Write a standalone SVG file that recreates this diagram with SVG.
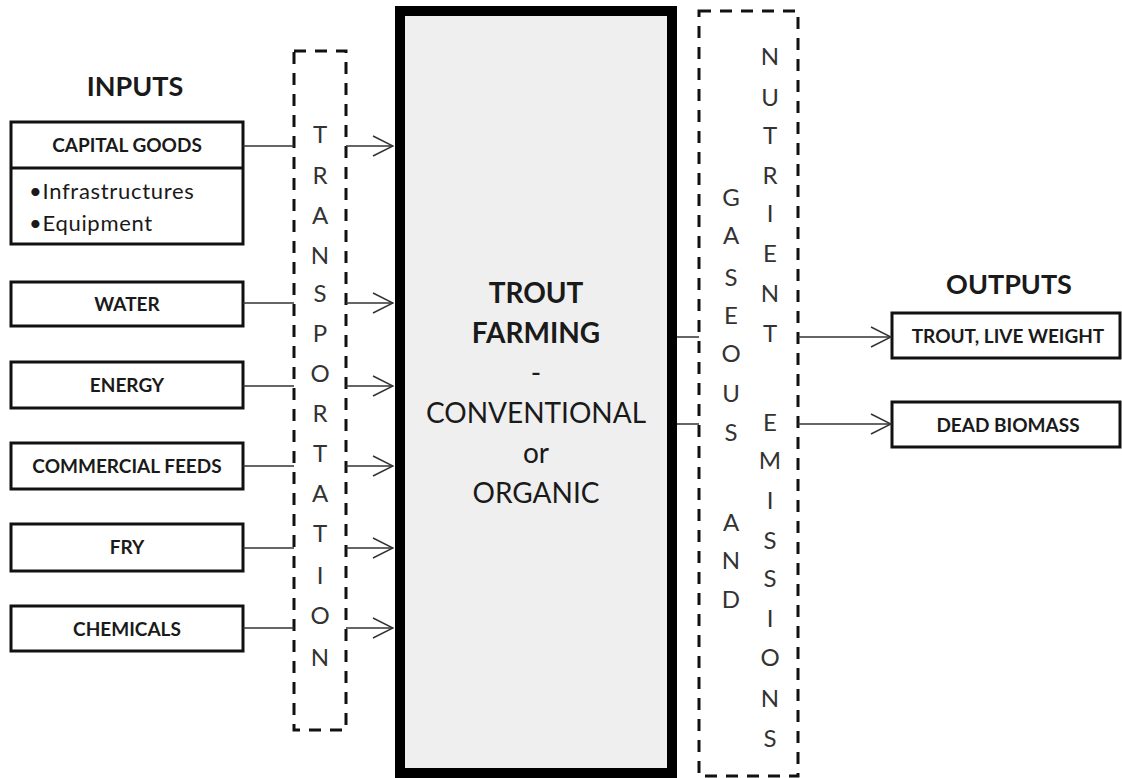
<svg xmlns="http://www.w3.org/2000/svg" width="1122" height="778" viewBox="0 0 1122 778">
<style>
.box{fill:#fff;stroke:#111;stroke-width:3}
.dash{fill:none;stroke:#111;stroke-width:3;stroke-dasharray:12 9}
.ln{fill:none;stroke:#333;stroke-width:1.5}
.lbl{font-family:Lato,"Liberation Sans",sans-serif;font-weight:bold;font-size:19px;fill:#1a1a1a;text-anchor:middle}
.head{font-family:Lato,"Liberation Sans",sans-serif;font-weight:bold;font-size:27px;fill:#1a1a1a;text-anchor:middle}
.bul{font-family:Lato,"Liberation Sans",sans-serif;font-size:22px;letter-spacing:0.7px;fill:#1a1a1a}
.col{font-family:Lato,"Liberation Sans",sans-serif;font-size:24px;fill:#333;text-anchor:middle}
.ctb{font-family:Lato,"Liberation Sans",sans-serif;font-weight:bold;font-size:28px;fill:#1a1a1a;text-anchor:middle}
.ct{font-family:Lato,"Liberation Sans",sans-serif;font-size:28px;fill:#1a1a1a;text-anchor:middle}
</style>
<defs>
<marker id="arr" viewBox="0 0 22 22" refX="21" refY="11" markerWidth="22" markerHeight="22" markerUnits="userSpaceOnUse" orient="auto">
<path d="M1,1 L21,11 L1,21" fill="none" stroke="#333" stroke-width="1.5"/>
</marker>
</defs>
<rect width="1122" height="778" fill="#fff"/>

<g id="main">
<rect x="400" y="11" width="272" height="762" fill="#efefef" stroke="#000" stroke-width="10"/>
<text class="ctb" x="536" y="303">TROUT</text>
<text class="ctb" x="536" y="343">FARMING</text>
<text class="ct" x="536" y="383">-</text>
<text class="ct" x="536" y="423">CONVENTIONAL</text>
<text class="ct" x="536" y="463">or</text>
<text class="ct" x="536" y="503">ORGANIC</text>
</g>

<g id="transportation">
<rect class="dash" x="294" y="51" width="52" height="679"/>
<text class="col" x="320" y="143">T</text>
<text class="col" x="320" y="184">R</text>
<text class="col" x="320" y="224">A</text>
<text class="col" x="320" y="264">N</text>
<text class="col" x="320" y="302">S</text>
<text class="col" x="320" y="342">P</text>
<text class="col" x="320" y="382">O</text>
<text class="col" x="320" y="422">R</text>
<text class="col" x="320" y="462">T</text>
<text class="col" x="320" y="502">A</text>
<text class="col" x="320" y="542">T</text>
<text class="col" x="320" y="584">I</text>
<text class="col" x="320" y="624">O</text>
<text class="col" x="320" y="666">N</text>
</g>

<g id="emissions">
<rect class="dash" x="699" y="11" width="99" height="765"/>
<text class="col" x="731" y="206">G</text>
<text class="col" x="731" y="244">A</text>
<text class="col" x="731" y="286">S</text>
<text class="col" x="731" y="324">E</text>
<text class="col" x="731" y="362">O</text>
<text class="col" x="731" y="402">U</text>
<text class="col" x="731" y="441">S</text>
<text class="col" x="731" y="531">A</text>
<text class="col" x="731" y="569">N</text>
<text class="col" x="731" y="608">D</text>
<text class="col" x="770" y="65">N</text>
<text class="col" x="770" y="106">U</text>
<text class="col" x="770" y="144">T</text>
<text class="col" x="770" y="184">R</text>
<text class="col" x="770" y="222">I</text>
<text class="col" x="770" y="262">E</text>
<text class="col" x="770" y="302">N</text>
<text class="col" x="770" y="342">T</text>
<text class="col" x="770" y="431">E</text>
<text class="col" x="770" y="469">M</text>
<text class="col" x="770" y="509">I</text>
<text class="col" x="770" y="549">S</text>
<text class="col" x="770" y="587">S</text>
<text class="col" x="770" y="627">I</text>
<text class="col" x="770" y="666">O</text>
<text class="col" x="770" y="707">N</text>
<text class="col" x="770" y="747">S</text>
</g>

<g id="inputs-title"><text class="head" x="135" y="96">INPUTS</text></g>
<g id="outputs-title"><text class="head" x="1009" y="294">OUTPUTS</text></g>

<g id="capital-goods">
<rect class="box" x="11" y="122" width="232" height="122"/>
<line x1="11" y1="168" x2="243" y2="168" stroke="#111" stroke-width="3"/>
<text class="lbl" x="127" y="152">CAPITAL GOODS</text>
<text class="bul" x="29" y="199">•Infrastructures</text>
<text class="bul" x="29" y="231">•Equipment</text>
</g>
<g id="water"><rect class="box" x="11" y="282" width="232" height="44"/><text class="lbl" x="127" y="311">WATER</text></g>
<g id="energy"><rect class="box" x="11" y="362" width="232" height="46"/><text class="lbl" x="127" y="392">ENERGY</text></g>
<g id="feeds"><rect class="box" x="11" y="443" width="232" height="46"/><text class="lbl" x="127" y="473">COMMERCIAL FEEDS</text></g>
<g id="fry"><rect class="box" x="11" y="524" width="232" height="47"/><text class="lbl" x="127" y="554">FRY</text></g>
<g id="chemicals"><rect class="box" x="11" y="606" width="232" height="45"/><text class="lbl" x="127" y="636">CHEMICALS</text></g>

<g id="trout-live-weight"><rect class="box" x="892" y="313" width="228" height="45"/><text class="lbl" x="1008" y="343">TROUT, LIVE WEIGHT</text></g>
<g id="dead-biomass"><rect class="box" x="892" y="402" width="228" height="45"/><text class="lbl" x="1008" y="432">DEAD BIOMASS</text></g>

<g id="connectors">
<line class="ln" x1="243" y1="146" x2="294" y2="146"/>
<line class="ln" x1="243" y1="303" x2="294" y2="303"/>
<line class="ln" x1="243" y1="386" x2="294" y2="386"/>
<line class="ln" x1="243" y1="466" x2="294" y2="466"/>
<line class="ln" x1="243" y1="548" x2="294" y2="548"/>
<line class="ln" x1="243" y1="628" x2="294" y2="628"/>
<line class="ln" x1="346" y1="146" x2="393" y2="146" marker-end="url(#arr)"/>
<line class="ln" x1="346" y1="303" x2="393" y2="303" marker-end="url(#arr)"/>
<line class="ln" x1="346" y1="386" x2="393" y2="386" marker-end="url(#arr)"/>
<line class="ln" x1="346" y1="466" x2="393" y2="466" marker-end="url(#arr)"/>
<line class="ln" x1="346" y1="548" x2="393" y2="548" marker-end="url(#arr)"/>
<line class="ln" x1="346" y1="628" x2="393" y2="628" marker-end="url(#arr)"/>
<line class="ln" x1="677" y1="337" x2="699" y2="337"/>
<line class="ln" x1="677" y1="424" x2="699" y2="424"/>
<line class="ln" x1="798" y1="337" x2="891" y2="337" marker-end="url(#arr)"/>
<line class="ln" x1="798" y1="424" x2="891" y2="424" marker-end="url(#arr)"/>
</g>
</svg>
